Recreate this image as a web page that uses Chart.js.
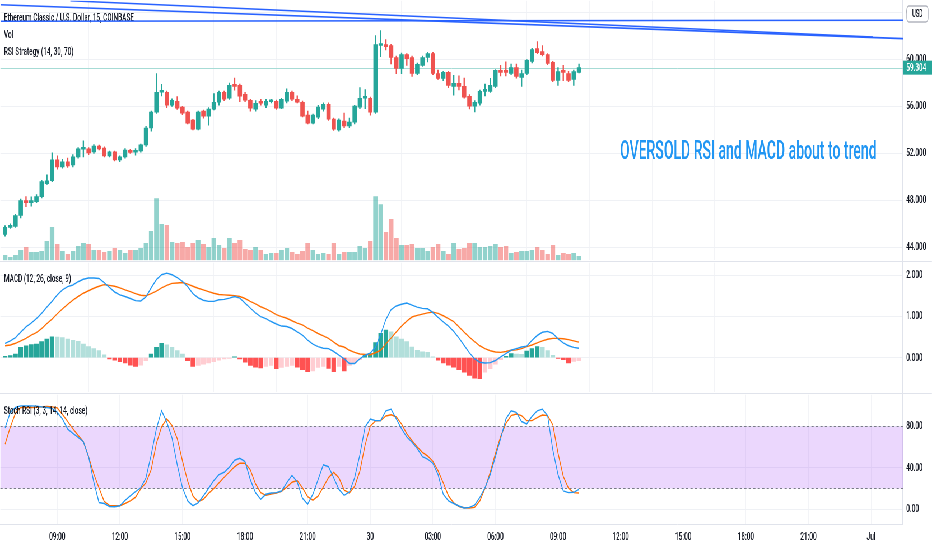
<!DOCTYPE html>
<html lang="en">
<head>
  <meta charset="UTF-8">
  <title>Ethereum Classic / U.S. Dollar, 15, COINBASE</title>
  <script src="https://cdn.jsdelivr.net/npm/chart.js@4"></script>
  <style>
    html, body { margin: 0; padding: 0; background: #fff; overflow: hidden; width: 932px; height: 550px; }
    /* the whole screen is drawn wide and squeezed, like the squashed screenshot */
    #stage { position: absolute; left: 0; top: 0; width: 1664px; height: 550px; transform: scaleX(0.5601); transform-origin: 0 0; }
    .pane { position: absolute; left: 0; width: 1664px; }
    #pricePane { top: 0; height: 261px; border-bottom: 1px solid #e0e3eb; }
    #macdPane { top: 262px; height: 131px; border-bottom: 1px solid #e0e3eb; }
    #stochPane { top: 394px; height: 156px; }
  </style>
  <script>
    const FONT = "Roboto, 'Liberation Sans', Arial, sans-serif";
    const AXIS_W = 52;

    // time axis, in 15 minute slots counted from 29 Jun 00:00
    const candleStart = 26;      // first candle 06:30
    const firstTickSlot = 36;    // 09:00
    const tickStep = 12;         // 3 hours
    const viewMin = 25.1, viewMax = 198.1;
    const timeTicks = ['09:00', '12:00', '15:00', '18:00', '21:00', '30', '03:00', '06:00', '09:00', '12:00', '15:00', '18:00', '21:00', 'Jul'];

    const priceTicks = [44, 48, 52, 56, 60, 64];
    const macdTicks = [0, 1, 2];
    const stochTicks = [0, 40, 80];
    const stochBand = [20, 80];

    const opens = [
      45.10, 45.69, 45.77, 46.71, 47.98, 47.81, 47.89, 48.31, 49.42, 49.67,
      51.45, 50.85, 51.28, 51.02, 51.70, 52.35, 52.38, 52.13, 52.63, 52.46,
      51.79, 52.13, 51.45, 51.70, 52.21, 52.10, 52.21, 52.72, 54.16, 55.51,
      57.21, 57.21, 56.10, 56.44, 55.94, 55.51, 54.83, 54.07, 55.60, 55.17,
      55.77, 56.36, 57.21, 56.70, 57.88, 57.80, 57.04, 56.53, 55.77, 56.40,
      56.10, 56.40, 56.44, 55.85, 56.44, 57.21, 56.61, 56.36, 55.26, 54.58,
      55.09, 55.77, 56.19, 54.92, 53.99, 54.75, 54.33, 54.67, 55.94, 56.70,
      56.70, 55.51, 61.19, 61.27, 61.19, 60.17, 59.24, 60.42, 60.17, 58.81,
      59.49, 60.17, 60.51, 58.81, 58.39, 58.90, 57.71, 57.97, 57.71, 56.87,
      56.02, 56.27, 57.29, 57.29, 57.71, 59.07, 59.07, 58.81, 59.32, 58.48,
      58.81, 59.83, 60.93, 60.68, 60.42, 59.75, 58.22, 58.98, 58.81, 58.31, 58.90
    ];
    const highs = [
      45.85, 46.00, 46.80, 48.10, 48.31, 48.30, 48.50, 49.70, 50.18, 52.04,
      51.79, 51.50, 51.60, 51.90, 52.50, 53.06, 52.50, 52.75, 52.70, 52.55,
      52.20, 52.20, 51.80, 52.40, 52.35, 52.40, 52.80, 54.30, 55.60, 58.81,
      57.88, 57.30, 56.65, 56.85, 56.00, 55.60, 54.90, 55.60, 55.70, 55.90,
      57.10, 57.30, 57.30, 58.00, 58.42, 57.90, 57.20, 56.60, 56.50, 56.60,
      56.60, 56.60, 56.55, 56.70, 57.50, 57.30, 56.90, 56.45, 55.60, 55.35,
      56.10, 56.30, 56.30, 55.00, 54.95, 55.43, 55.00, 56.10, 57.60, 57.43,
      56.80, 62.03, 62.46, 61.70, 61.30, 60.30, 60.55, 60.50, 60.30, 59.70,
      60.30, 60.60, 60.60, 59.10, 59.00, 59.00, 58.65, 58.60, 58.42, 57.00,
      56.50, 57.40, 57.90, 58.40, 59.15, 59.50, 59.80, 59.60, 59.60, 59.10,
      60.00, 60.95, 61.52, 61.19, 60.50, 59.85, 59.30, 59.50, 59.00, 59.10, 59.60
    ];
    const lows = [
      44.95, 45.60, 45.70, 46.50, 47.47, 47.50, 47.80, 48.20, 49.35, 49.60,
      50.66, 50.75, 50.80, 50.85, 51.60, 51.70, 51.90, 52.00, 52.30, 51.70,
      51.70, 51.35, 51.30, 51.60, 52.00, 51.85, 52.10, 52.60, 53.90, 55.40,
      56.90, 55.90, 56.00, 55.75, 55.30, 54.50, 54.00, 54.00, 55.00, 54.41,
      55.70, 56.10, 56.50, 56.60, 57.38, 56.40, 56.40, 55.60, 55.60, 56.10,
      55.90, 56.30, 55.75, 55.80, 56.30, 56.50, 56.30, 55.10, 54.50, 54.50,
      54.95, 55.60, 54.80, 53.95, 53.90, 54.20, 54.20, 54.50, 55.80, 55.80,
      55.26, 55.40, 60.25, 60.82, 59.63, 58.79, 58.80, 59.49, 58.56, 58.70,
      59.40, 59.80, 58.70, 58.30, 58.20, 57.60, 56.95, 57.40, 56.70, 55.79,
      55.54, 56.10, 56.90, 57.20, 57.60, 58.60, 58.60, 58.70, 58.40, 57.71,
      58.70, 59.70, 60.50, 60.30, 59.55, 58.10, 57.80, 58.20, 58.10, 57.80, 58.85
    ];
    const closes = [
      45.69, 45.86, 46.71, 47.98, 47.81, 47.98, 48.31, 49.59, 49.67, 51.45,
      50.85, 51.28, 50.94, 51.70, 52.38, 52.42, 52.04, 52.63, 52.38, 51.79,
      52.13, 51.45, 51.70, 52.29, 52.08, 52.21, 52.72, 54.16, 55.51, 57.21,
      57.29, 56.10, 56.53, 55.85, 55.43, 54.58, 54.07, 55.51, 55.17, 55.77,
      56.36, 57.21, 56.61, 57.80, 57.71, 56.87, 56.53, 55.85, 56.27, 56.27,
      56.44, 56.48, 55.85, 56.61, 57.21, 56.61, 56.36, 55.17, 54.58, 55.26,
      55.94, 56.19, 54.92, 54.07, 54.83, 54.33, 54.67, 56.02, 56.70, 56.78,
      55.51, 61.27, 61.27, 61.10, 60.17, 59.24, 60.42, 60.08, 58.81, 59.58,
      60.17, 60.51, 58.81, 58.39, 58.90, 57.80, 57.97, 57.71, 56.78, 56.02,
      56.36, 57.29, 57.46, 57.80, 59.07, 58.90, 58.90, 59.32, 58.56, 58.81,
      59.92, 60.85, 60.59, 60.42, 59.66, 58.22, 58.98, 58.90, 58.22, 58.98, 59.304
    ];
    const volumes = [
      5, 3, 5, 10, 13, 8, 8, 9, 19, 33, 16, 9, 6, 9, 14, 17, 16, 10, 10, 8,
      9, 12, 10, 7, 10, 10, 12, 17, 29, 62, 36, 35, 18, 17, 18, 13, 17, 20,
      16, 13, 22, 15, 12, 22, 17, 20, 11, 10, 13, 10, 6, 7, 7, 10, 12, 8, 6, 9,
      17, 10, 6, 7, 6, 17, 6, 8, 8, 8, 14, 12, 19, 64, 56, 28,
      41, 22, 15, 15, 16, 12, 12, 9, 13, 16, 9, 6, 17, 11, 12, 17, 17, 13, 13, 14,
      16, 13, 14, 7, 8, 9, 9, 10, 13, 10, 6, 15, 5, 7, 6, 7, 4
    ];

    const macdLine = [
      0.35, 0.41, 0.49, 0.62, 0.75, 0.84, 0.95, 1.08, 1.23, 1.37,
      1.53, 1.65, 1.73, 1.77, 1.85, 1.91, 1.94, 1.94, 1.93, 1.83,
      1.71, 1.60, 1.53, 1.49, 1.44, 1.39, 1.38, 1.48, 1.70, 1.90,
      2.02, 2.06, 2.02, 1.95, 1.86, 1.73, 1.56, 1.46, 1.40, 1.37,
      1.37, 1.41, 1.42, 1.45, 1.49, 1.45, 1.33, 1.21, 1.09, 1.00,
      0.95, 0.88, 0.82, 0.77, 0.76, 0.71, 0.63, 0.55, 0.43, 0.33,
      0.27, 0.23, 0.22, 0.15, 0.06, -0.03, -0.14, -0.14, -0.03, 0.06,
      0.11, 0.25, 0.57, 0.93, 1.17, 1.26, 1.30, 1.33, 1.28, 1.23,
      1.20, 1.19, 1.10, 0.98, 0.87, 0.77, 0.64, 0.48, 0.30, 0.12,
      -0.03, -0.11, -0.13, -0.12, -0.07, 0.02, 0.10, 0.18, 0.22, 0.26,
      0.28, 0.42, 0.54, 0.62, 0.64, 0.59, 0.46, 0.36, 0.29, 0.25, 0.23
    ];
    const signalLine = [
      0.29, 0.31, 0.35, 0.41, 0.47, 0.55, 0.61, 0.71, 0.83, 0.94,
      1.07, 1.19, 1.30, 1.40, 1.49, 1.57, 1.63, 1.69, 1.74, 1.78,
      1.76, 1.74, 1.70, 1.65, 1.61, 1.56, 1.52, 1.51, 1.56, 1.62,
      1.70, 1.76, 1.81, 1.82, 1.83, 1.79, 1.74, 1.69, 1.65, 1.61,
      1.57, 1.54, 1.53, 1.52, 1.51, 1.49, 1.44, 1.37, 1.31, 1.24,
      1.19, 1.12, 1.05, 1.00, 0.96, 0.90, 0.84, 0.80, 0.72, 0.66,
      0.59, 0.53, 0.47, 0.38, 0.29, 0.26, 0.18, 0.13, 0.09, 0.08,
      0.07, 0.12, 0.18, 0.34, 0.48, 0.63, 0.77, 0.89, 0.99, 1.03,
      1.06, 1.09, 1.11, 1.08, 1.02, 0.95, 0.88, 0.75, 0.62, 0.50,
      0.39, 0.29, 0.22, 0.17, 0.14, 0.13, 0.15, 0.18, 0.19, 0.22,
      0.27, 0.31, 0.36, 0.41, 0.45, 0.47, 0.47, 0.46, 0.44, 0.41, 0.38
    ];
    const macdHist = [
      0.03, 0.05, 0.09, 0.25, 0.29, 0.32, 0.33, 0.39, 0.45, 0.51,
      0.50, 0.49, 0.45, 0.42, 0.40, 0.33, 0.27, 0.22, 0.17, 0.07,
      -0.03, -0.06, -0.10, -0.13, -0.18, -0.21, -0.18, -0.07, 0.09, 0.25,
      0.35, 0.31, 0.25, 0.17, 0.09, -0.07, -0.21, -0.19, -0.16, -0.13,
      -0.10, -0.06, -0.03, -0.02, 0.02, -0.03, -0.11, -0.19, -0.23, -0.25,
      -0.21, -0.19, -0.27, -0.24, -0.21, -0.19, -0.23, -0.29, -0.34, -0.32,
      -0.24, -0.21, -0.26, -0.34, -0.21, -0.32, -0.19, -0.13, -0.05, 0.06,
      0.10, 0.37, 0.59, 0.67, 0.63, 0.51, 0.45, 0.39, 0.26, 0.18,
      0.14, 0.13, 0.02, -0.06, -0.13, -0.18, -0.23, -0.29, -0.35, -0.43,
      -0.50, -0.51, -0.35, -0.27, -0.16, -0.05, 0.03, 0.10, 0.09, 0.08,
      0.16, 0.22, 0.27, 0.25, 0.17, 0.06, -0.02, -0.05, -0.13, -0.09, -0.07
    ];

    const stochK = [
      78.7, 93.7, 98.4, 100, 100, 100, 99.7, 99.0, 98.4, 97.5,
      93.7, 87.3, 77.5, 73.3, 69.5, 65.4, 50.8, 26.3, 6.3, 5.4,
      2.5, 2.2, 3.2, 8.3, 12.7, 16.8, 20.6, 30.2, 52.4, 77.8,
      95.2, 84.1, 68.9, 42.9, 20.6, 7.9, 3.2, 6.0, 12.7, 20.0,
      27.6, 33.3, 35.6, 40.6, 47.3, 49.2, 46.0, 28.6, 15.9, 9.5,
      14.3, 15.6, 15.9, 17.5, 25.4, 32.7, 26.3, 10.5, 4.8, 14.3,
      28.6, 42.9, 41.0, 30.2, 19.0, 13.3, 16.5, 30.2, 52.4, 79.4,
      87.3, 85.7, 85.7, 95.2, 96.8, 87.3, 77.8, 69.8, 64.8, 58.7,
      50.8, 48.3, 44.4, 33.3, 14.3, 7.9, 5.4, 2.9, 1.0, 1.6,
      3.8, 11.1, 20.6, 33.3, 50.8, 68.3, 87.3, 95.2, 93.7, 84.8,
      82.5, 89.8, 95.2, 96.8, 90.5, 57.1, 33.3, 17.5, 15.9, 16.2, 19.0
    ];
    const stochD = [
      62.9, 79.4, 93.0, 98.4, 98.4, 98.4, 98.7, 99.0, 99.4, 99.0,
      98.1, 91.7, 84.8, 77.8, 71.4, 65.4, 50.8, 34.0, 20.6, 7.3,
      3.5, 3.2, 3.2, 5.4, 7.9, 11.4, 19.7, 25.4, 38.1, 63.5,
      79.7, 87.3, 81.0, 68.3, 46.7, 27.0, 12.7, 7.3, 9.5, 15.2,
      19.7, 25.4, 30.8, 35.9, 41.0, 44.4, 44.4, 38.1, 24.4, 15.9,
      13.3, 14.6, 15.6, 17.1, 21.3, 26.0, 27.6, 20.6, 12.1, 8.6,
      12.4, 21.3, 30.5, 35.6, 30.2, 18.4, 15.6, 21.9, 36.5, 61.9,
      80.3, 85.4, 85.7, 90.2, 91.4, 89.2, 82.5, 73.0, 66.3, 60.3,
      54.9, 51.4, 46.3, 37.1, 25.4, 12.7, 6.0, 2.5, 1.3, 1.0,
      1.6, 7.9, 20.0, 35.9, 54.0, 70.5, 82.9, 90.5, 92.1, 90.5,
      85.7, 85.7, 88.6, 91.1, 90.5, 81.6, 54.0, 31.7, 20.3, 15.9, 15.6
    ];

    // hand-drawn trend lines, [slot, price] end points
    const trendA = [[38.5, 65.0], [192.3, 61.91]];
    const trendB = [[25.1, 64.66], [198.1, 61.78]];
    const trendC = [[25.1, 63.26], [198.1, 63.34]];

    const UP = '#26a69a', DOWN = '#ef5350';
    const TEXT = '#131722';

    function slotOf(i) { return candleStart + i; }

    function timeAxis(showLabels) {
      return {
        type: 'linear', min: viewMin, max: viewMax, offset: false,
        afterBuildTicks: s => { s.ticks = timeTicks.map((t, k) => ({ value: firstTickSlot + k * tickStep })); },
        afterFit: s => { s.height = showLabels ? 26 : 0; s.paddingLeft = 0; s.paddingRight = 0; },
        ticks: {
          display: showLabels, autoSkip: false, maxRotation: 0, padding: 6,
          color: TEXT, font: { family: FONT, size: 11.5, weight: 500 },
          callback: (v, k) => timeTicks[k]
        },
        grid: { color: '#f3f4f7', drawTicks: false },
        border: { display: showLabels, color: '#e0e3eb' }
      };
    }

    function sideAxis(min, max, values, digits) {
      return {
        position: 'right', min: min, max: max,
        afterBuildTicks: s => { s.ticks = values.map(v => ({ value: v })); },
        afterFit: s => { s.width = AXIS_W; s.paddingTop = 0; s.paddingBottom = 0; },
        ticks: { color: TEXT, font: { family: FONT, size: 11.5, weight: 500 }, padding: 6, callback: v => v.toFixed(digits) },
        grid: { color: '#eff1f5', drawTicks: false },
        border: { color: '#e0e3eb', width: 2 }
      };
    }

    function lineSet(points, color, width) {
      return {
        type: 'line', data: points, borderColor: color, borderWidth: width,
        pointRadius: 0, tension: 0, fill: false
      };
    }

    function paneTitle(ctx, text, y) {
      ctx.save();
      ctx.font = '500 11.5px ' + FONT;
      ctx.fillStyle = TEXT;
      ctx.fillText(text, 7, y);
      ctx.restore();
    }

    const baseOptions = {
      animation: false, responsive: true, maintainAspectRatio: false,
      layout: { padding: 0 },
      plugins: { legend: { display: false }, tooltip: { enabled: false } }
    };

    function createCharts() {
      Chart.defaults.font.family = FONT;

      const candleColors = closes.map((c, i) => c >= opens[i] ? UP : DOWN);
      const volColors = closes.map((c, i) => c >= opens[i] ? 'rgba(38,166,154,0.5)' : 'rgba(239,83,80,0.5)');
      const lastClose = closes[closes.length - 1];

      // price pane overlays
      const priceDecor = {
        id: 'priceDecor',
        beforeDatasetsDraw(chart) {
          const { ctx, chartArea, scales } = chart;
          const y = Math.round(scales.y.getPixelForValue(lastClose)) + 0.5;
          ctx.save();
          ctx.strokeStyle = '#a6dbd5';
          ctx.lineWidth = 1;
          ctx.beginPath();
          ctx.moveTo(chartArea.left, y);
          ctx.lineTo(chartArea.right, y);
          ctx.stroke();
          ctx.restore();
          paneTitle(ctx, 'Ethereum Classic / U.S. Dollar, 15, COINBASE', 21);
          paneTitle(ctx, 'Vol', 38);
          paneTitle(ctx, 'RSI Strategy (14, 30, 70)', 55);
        },
        afterDraw(chart) {
          const { ctx, chartArea, scales } = chart;
          // note text
          ctx.save();
          ctx.font = '500 26px ' + FONT;
          ctx.fillStyle = '#2196f3';
          const note = 'OVERSOLD RSI and MACD about to trend';
          const w = ctx.measureText(note).width;
          const sx = Math.min(1, 458 / w);
          ctx.translate(1107, 159);
          ctx.scale(sx, 1);
          ctx.fillText(note, 0, 0);
          ctx.restore();

          // last price tag
          const py = scales.y.getPixelForValue(lastClose);
          ctx.save();
          ctx.fillStyle = UP;
          ctx.fillRect(chartArea.right, py - 7, AXIS_W, 14);
          ctx.fillStyle = '#ffffff';
          ctx.font = '500 11.5px ' + FONT;
          ctx.textBaseline = 'middle';
          ctx.fillText(lastClose.toFixed(3), chartArea.right + 6, py + 0.5);
          ctx.restore();

          // currency badge
          ctx.save();
          ctx.fillStyle = '#ffffff';
          ctx.strokeStyle = '#b2b5be';
          ctx.lineWidth = 1.5;
          ctx.beginPath();
          ctx.roundRect(chartArea.right + 7, 6, 38, 16, 4);
          ctx.fill();
          ctx.stroke();
          ctx.fillStyle = TEXT;
          ctx.font = '500 10px ' + FONT;
          ctx.textAlign = 'center';
          ctx.textBaseline = 'middle';
          ctx.fillText('USD', chartArea.right + 26, 14.5);
          ctx.restore();
        }
      };

      new Chart(document.getElementById('priceChart'), {
        type: 'bar',
        data: {
          datasets: [
            {
              data: volumes.map((v, i) => ({ x: slotOf(i), y: v })),
              yAxisID: 'yVol', backgroundColor: volColors,
              barThickness: 7.5, grouped: false, order: 10
            },
            {
              data: lows.map((l, i) => ({ x: slotOf(i), y: [l, highs[i]] })),
              backgroundColor: candleColors, barThickness: 1.7, grouped: false, order: 5
            },
            {
              data: opens.map((o, i) => ({ x: slotOf(i), y: [o, closes[i]] })),
              backgroundColor: candleColors, barThickness: 7, minBarLength: 2, grouped: false, order: 4
            },
            Object.assign(lineSet(trendA.map(p => ({ x: p[0], y: p[1] })), '#2962ff', 1.6), { order: 1 }),
            Object.assign(lineSet(trendB.map(p => ({ x: p[0], y: p[1] })), '#2962ff', 1.6), { order: 1 }),
            Object.assign(lineSet(trendC.map(p => ({ x: p[0], y: p[1] })), '#2962ff', 1.6), { order: 1 })
          ]
        },
        options: Object.assign({}, baseOptions, {
          scales: {
            x: timeAxis(false),
            y: sideAxis(42.9, 65.0, priceTicks, 3),
            yVol: { display: false, min: 0, max: 261 }
          }
        }),
        plugins: [priceDecor]
      });

      // MACD pane
      const histColors = macdHist.map((h, i) => {
        const prev = i > 0 ? macdHist[i - 1] : 0;
        if (h >= 0) return h >= prev ? '#26a69a' : '#b2dfdb';
        return h < prev ? '#ff5252' : '#ffcdd2';
      });

      new Chart(document.getElementById('macdChart'), {
        type: 'bar',
        data: {
          datasets: [
            {
              data: macdHist.map((h, i) => ({ x: slotOf(i), y: h })),
              backgroundColor: histColors, barThickness: 7.5, grouped: false, order: 3
            },
            Object.assign(lineSet(signalLine.map((v, i) => ({ x: slotOf(i), y: v })), '#ff6d00', 1.4), { order: 2 }),
            Object.assign(lineSet(macdLine.map((v, i) => ({ x: slotOf(i), y: v })), '#2196f3', 1.4), { order: 1 })
          ]
        },
        options: Object.assign({}, baseOptions, {
          scales: { x: timeAxis(false), y: sideAxis(-0.843, 2.313, macdTicks, 3) }
        }),
        plugins: [{ id: 'macdTitle', afterDraw(chart) { paneTitle(chart.ctx, 'MACD (12, 26, close, 9)', 20); } }]
      });

      // Stoch RSI pane
      const stochDecor = {
        id: 'stochDecor',
        beforeDatasetsDraw(chart) {
          const { ctx, chartArea, scales } = chart;
          const yHi = Math.round(scales.y.getPixelForValue(stochBand[1])) + 0.5;
          const yLo = Math.round(scales.y.getPixelForValue(stochBand[0])) + 0.5;
          ctx.save();
          ctx.fillStyle = 'rgba(150, 40, 245, 0.19)';
          ctx.fillRect(chartArea.left, yHi, chartArea.right - chartArea.left, yLo - yHi);
          ctx.strokeStyle = '#787b86';
          ctx.lineWidth = 1;
          ctx.setLineDash([4, 4]);
          [yHi, yLo].forEach(y => {
            ctx.beginPath();
            ctx.moveTo(chartArea.left, y);
            ctx.lineTo(chartArea.right, y);
            ctx.stroke();
          });
          ctx.restore();
        },
        afterDraw(chart) { paneTitle(chart.ctx, 'Stoch RSI (3, 3, 14, 14, close)', 20); }
      };

      new Chart(document.getElementById('stochChart'), {
        type: 'line',
        data: {
          datasets: [
            lineSet(stochK.map((v, i) => ({ x: slotOf(i), y: v })), '#2196f3', 1.4),
            lineSet(stochD.map((v, i) => ({ x: slotOf(i), y: v })), '#ff6d00', 1.4)
          ]
        },
        options: Object.assign({}, baseOptions, {
          scales: { x: timeAxis(true), y: sideAxis(-14.5, 110.8, stochTicks, 2) }
        }),
        plugins: [stochDecor]
      });
    }

    window.onload = createCharts;
  </script>
</head>
<body>
  <div id="stage">
    <div class="pane" id="pricePane"><canvas id="priceChart"></canvas></div>
    <div class="pane" id="macdPane"><canvas id="macdChart"></canvas></div>
    <div class="pane" id="stochPane"><canvas id="stochChart"></canvas></div>
  </div>
</body>
</html>
